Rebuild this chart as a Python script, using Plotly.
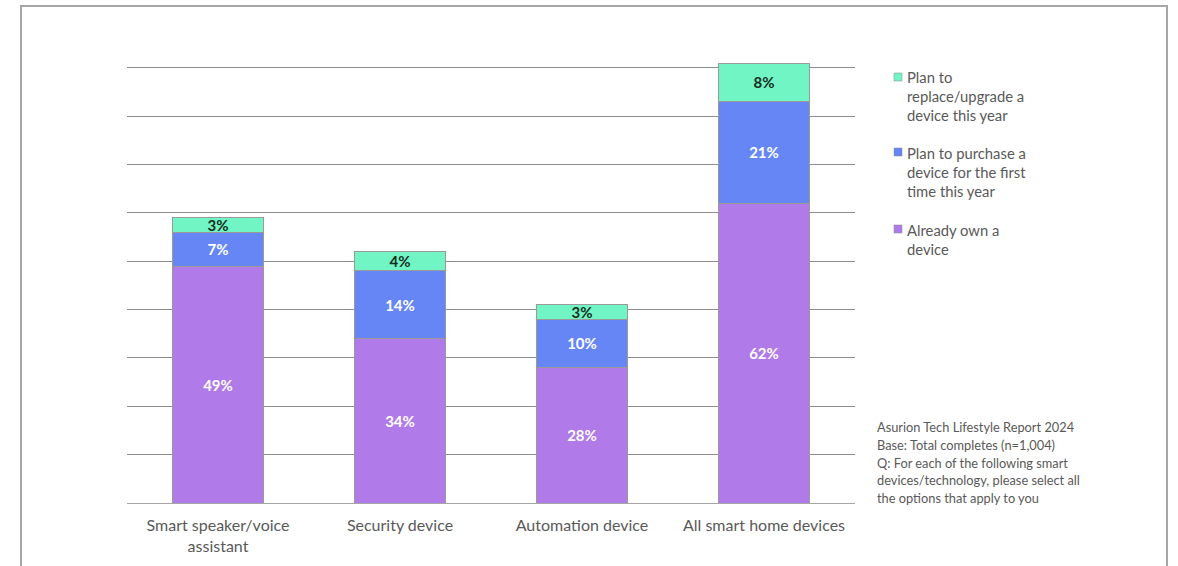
import plotly.graph_objects as go

# Share of respondents per smart home device category (%)
categories = ["Smart speaker/voice<br>assistant", "Security device",
              "Automation device", "All smart home devices"]
already_own = [49, 34, 28, 62]
plan_first_time = [7, 14, 10, 21]
plan_replace = [3, 4, 3, 8]

series_names = ["Already own a<br>device",
                "Plan to purchase a<br>device for the first<br>time this year",
                "Plan to<br>replace/upgrade a<br>device this year"]
series_colors = ["#b07ae8", "#6686f6", "#72f5c4"]
label_colors = ["#ffffff", "#ffffff", "#15301f"]

note_lines = ["Asurion Tech Lifestyle Report 2024",
              "Base: Total completes (n=1,004)",
              "Q: For each of the following smart",
              "devices/technology, please select all",
              "the options that apply to you"]

FONT = "Lato"
GREY = "#595959"

# plot area geometry in pixels (used to place the frame, legend and note)
L, R, T, B = 127, 855, 63, 503
W, H = R - L, B - T


def px(x):
    return (x - L) / W


def py(y):
    return (B - y) / H


fig = go.Figure()
for vals, name, color, lc in zip([already_own, plan_first_time, plan_replace],
                                 series_names, series_colors, label_colors):
    fig.add_trace(go.Bar(
        x=categories, y=vals, name=name, showlegend=False,
        marker=dict(color=color, line=dict(color="#9a9a9a", width=1)),
        texttemplate="%{y}%", textposition="inside",
        insidetextanchor="middle", textangle=0, constraintext="none",
        textfont=dict(family=FONT, size=15, color=lc, weight="bold"),
        hoverinfo="skip",
    ))

fig.update_layout(
    barmode="stack", bargap=0.5,
    width=1178, height=566,
    margin=dict(l=L, r=1178 - R, t=T, b=566 - B),
    plot_bgcolor="white", paper_bgcolor="white",
    font=dict(family=FONT, color=GREY, size=14),
    xaxis=dict(showgrid=False, ticks="", tickfont=dict(size=16, color=GREY),
               showline=False, ticklabelstandoff=11),
    yaxis=dict(range=[0, 91], dtick=10, showticklabels=False, ticks="",
               showgrid=True, gridcolor="#8c8c8c", gridwidth=1,
               zeroline=True, zerolinecolor="#a6a6a6", zerolinewidth=1),
)

# Outer frame around the chart
fig.add_shape(type="rect", xref="paper", yref="paper",
              x0=px(21), x1=px(1167), y0=py(640), y1=py(6),
              line=dict(color="#a6a6a6", width=2), layer="below")

# Legend: swatch aligned with the first line of each entry, top to bottom
legend_tops = [77, 152, 229]
for top, idx in zip(legend_tops, [2, 1, 0]):
    fig.add_shape(type="rect", xref="paper", yref="paper",
                  x0=px(894), x1=px(902), y0=py(top + 4), y1=py(top - 4),
                  fillcolor=series_colors[idx], line=dict(color="#8a8a8a", width=0.5))
    fig.add_annotation(
        xref="paper", yref="paper", x=px(905), y=py(top - 10.5),
        xanchor="left", yanchor="top", align="left", showarrow=False,
        text=series_names[idx], font=dict(family=FONT, size=14.8, color=GREY),
    )

# Source / question note, one line each
for i, line in enumerate(note_lines):
    fig.add_annotation(
        xref="paper", yref="paper", x=px(875), y=py(427 + i * 17.75),
        xanchor="left", yanchor="middle", align="left", showarrow=False,
        text=line, font=dict(family=FONT, size=12.8, color=GREY),
    )

fig.write_html("out.html")
